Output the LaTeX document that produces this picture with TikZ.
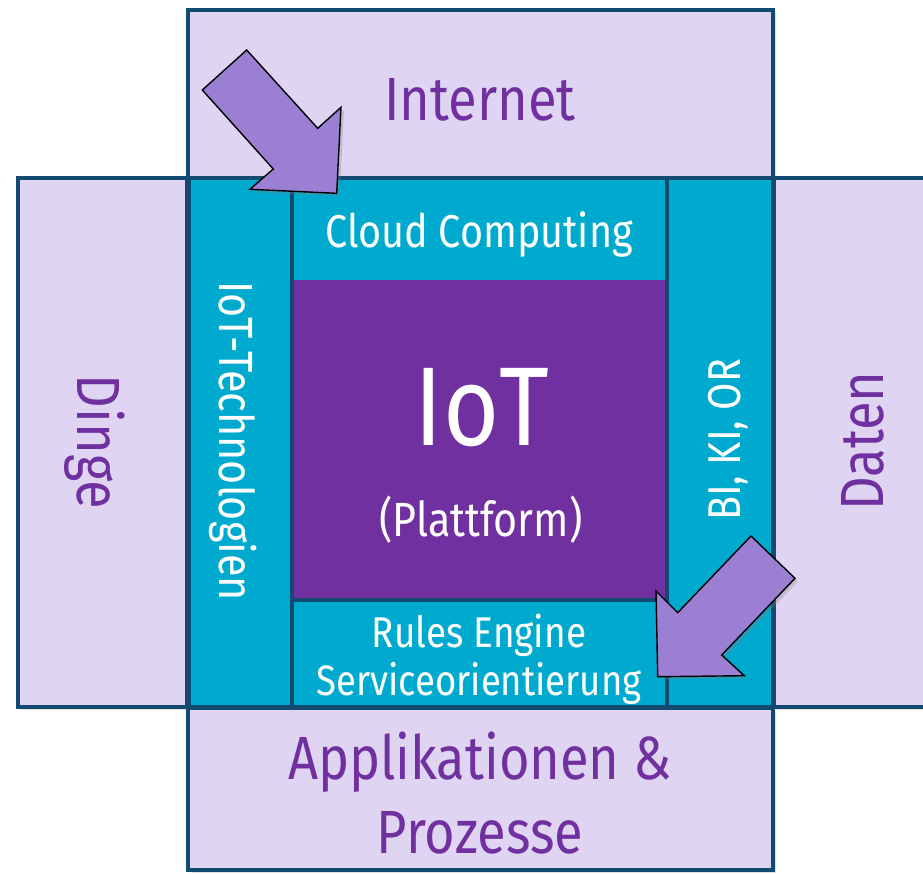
\documentclass[tikz,border=0pt]{standalone}
\usepackage{fontspec}
\setmainfont{Fira Sans}[FakeStretch=0.86]
\usetikzlibrary{shadows}
\definecolor{lav}{HTML}{DFD5F3}
\definecolor{txtpurple}{HTML}{7030A0}
\definecolor{iotpurple}{HTML}{7030A0}
\definecolor{teal}{HTML}{00AACE}
\definecolor{edge}{HTML}{124A72}
\definecolor{arrowfill}{HTML}{9B7FD3}
\tikzset{
  lavbox/.style={fill=lav, draw=edge, line width=4.5pt,
    drop shadow={opacity=0.25, shadow xshift=3pt, shadow yshift=-3pt}},
  tealbox/.style={fill=teal, draw=edge, line width=4.5pt},
  bigarrow/.style={fill=arrowfill, draw=black, line width=1.4pt, line join=miter,
    drop shadow={opacity=0.3, shadow xshift=3pt, shadow yshift=-3pt}},
  outertext/.style={text=txtpurple, inner sep=0pt, anchor=base, font=\fontsize{61}{66}\selectfont},
  innertext/.style={text=white, inner sep=0pt, anchor=base, font=\fontsize{46}{50}\selectfont},
}
\begin{document}
\begin{tikzpicture}[x=1pt, y=-1pt]
\useasboundingbox (0,0) rectangle (923,873);
\clip (0,0) rectangle (923,873);
% outer lavender boxes
\draw[lavbox] (188,10) rectangle (773,178);
\draw[lavbox] (18,178) rectangle (187,707);
\draw[lavbox] (774,178) rectangle (950,707);
\draw[lavbox] (188,708) rectangle (773,870);
% teal frame
\draw[tealbox] (189,178) rectangle (773,707);
\fill[teal] (292,178) rectangle (667,707);
\fill[iotpurple] (292,280) rectangle (667,600);
\draw[edge, line width=4.5pt] (292,600) rectangle (667,707);
\draw[edge, line width=4.5pt] (292,178) rectangle (667,707);
% texts
\node[outertext] (internet) at (480,120) {Internet};
\node[outertext] (apps) at (480,779) {Applikationen \&};
\node[outertext] (proz) at (480,853) {Prozesse};
\node[outertext, rotate=-90] (dinge) at (77,442) {Dinge};
\node[outertext, rotate=90] (daten) at (883,441) {Daten};
\node[innertext] (cloud) at (479,247) {Cloud Computing};
\node[innertext, font=\fontsize{43}{48}\selectfont] (rules) at (479,647) {Rules Engine};
\node[innertext, font=\fontsize{42.5}{48}\selectfont] (service) at (479,695) {Serviceorientierung};
\node[innertext, rotate=-90, font=\fontsize{48}{52}\selectfont] (tech) at (219,441) {IoT-Technologien};
\node[innertext, rotate=90] (bi) at (740,440) {BI, KI, OR};
\node[innertext, font=\fontsize{112}{120}\selectfont] (iot) at (482,445) {IoT};
\node[innertext, font=\fontsize{48}{52}\selectfont] (platt) at (481,536) {(Plattform)};
% arrows
\draw[bigarrow] (246.7,50) -- (317.7,128.3) -- (341,107.3) -- (336.7,193.3)
  -- (250,189.3) -- (273.3,169) -- (202.3,90) -- cycle;
\draw[bigarrow] (751,536) -- (795,578.3) -- (721.7,655) -- (744.3,675.7)
  -- (657.7,676.7) -- (656,591) -- (677.7,612.7) -- cycle;
\end{tikzpicture}
\end{document}
